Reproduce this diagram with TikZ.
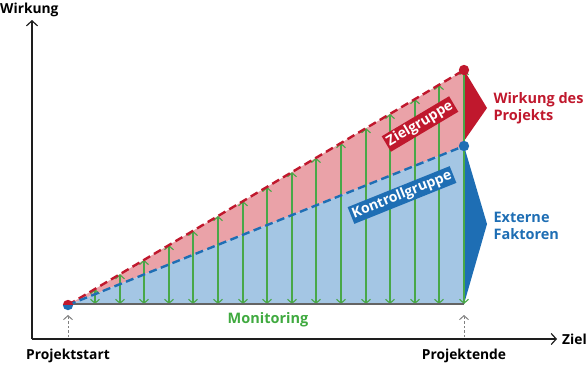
\documentclass[tikz,border=0pt]{standalone}
\usepackage{fontspec}
\setmainfont{Open Sans}
\usetikzlibrary{arrows.meta,calc}
\definecolor{dred}{RGB}{192,24,45}
\definecolor{dblue}{RGB}{30,110,180}
\definecolor{pinkfill}{RGB}{234,162,168}
\definecolor{bluefill}{RGB}{164,198,228}
\definecolor{mgreen}{RGB}{72,168,72}
\definecolor{tgreen}{RGB}{64,170,64}
\definecolor{axisc}{RGB}{30,30,30}
\definecolor{basegray}{RGB}{100,100,100}
\tikzset{
  axis/.style={draw=axisc, line width=1.4pt, -{Straight Barb[length=5pt,width=11pt,line width=1.2pt]}},
  garrow/.style={draw=mgreen, line width=1.6pt, -{Straight Barb[length=4pt,width=9pt,line width=1.1pt]}},
  milestone/.style={draw=gray, line width=1pt, dashed, dash pattern=on 2.5pt off 2pt, -{Straight Barb[length=4pt,width=9pt,line width=1pt]}},
  lbl/.style={font=\bfseries\fontsize{13.8}{15}\selectfont, text=black},
  tag/.style={font=\bfseries\fontsize{14}{15}\selectfont, text=white, inner sep=2pt},
  side/.style={font=\bfseries\fontsize{14.5}{17}\selectfont, align=left, anchor=west}
}
\begin{document}
\begin{tikzpicture}[x=1pt,y=-1pt]
\useasboundingbox (0,0) rectangle (588,368);
% key points
\coordinate (S) at (68,305);
\coordinate (R) at (464,70);
\coordinate (B) at (464,146);
\coordinate (E) at (464,304);
\coordinate (SB) at (68,304);
% fills
\fill[pinkfill] (S) -- (R) -- (B) -- cycle;
\fill[bluefill] (S) -- (B) -- (E) -- (SB) -- cycle;
% side arrows
\fill[dred] (R) -- (487,108) -- (464,141) -- cycle;
\fill[dblue] (B) -- (487,224) -- (E) -- cycle;
% green monitoring arrows
\foreach \k in {0,...,15}{
  \pgfmathsetmacro{\xx}{round(95+24.6*\k)}
  \pgfmathsetmacro{\yr}{305-(\xx-68)/396*235}
  \pgfmathsetmacro{\yb}{305-(\xx-68)/396*159}
  \coordinate (m\k) at (\xx,\yb);
  \coordinate (r\k) at (\xx,\yr);
  \coordinate (e\k) at (\xx,304);
  \draw[garrow] (m\k) -- (r\k);
  \draw[garrow] (m\k) -- (e\k);
}
% baseline
\draw[basegray, line width=2.2pt] (SB) -- (E);
% dashed lines
\draw[dred, line width=2.4pt, dash pattern=on 8pt off 4.5pt] (S) -- (R);
\draw[dblue, line width=2.4pt, dash pattern=on 8pt off 4.5pt] (S) -- (B);
% tags
\node[tag, fill=dred, rotate=30.7] (zg) at (420,124) {Zielgruppe};
\node[tag, fill=dblue, rotate=21.9] (kg) at (402,195) {Kontrollgruppe};
% dots
\fill[dred] (R) circle (5.2);
\fill[dblue] (B) circle (5.2);
\begin{scope}
\clip (S) circle (5.2);
\fill[dblue] ($(S)+(-6,0)$) rectangle ($(S)+(6,6)$);
\fill[dred] ($(S)+(-6,-6)$) rectangle ($(S)+(6,0)$);
\end{scope}
% axes
\coordinate (O) at (32,339);
\coordinate (Ytop) at (32,20);
\coordinate (Xend) at (557,339);
\draw[axis] (O) -- (Ytop);
\draw[axis] (O) -- (Xend);
\node[lbl, anchor=west, inner sep=0pt] (wirk) at (0,10) {Wirkung};
\node[lbl, anchor=west, inner sep=0pt] (ziel) at (562,339) {Ziel};
% milestones
\coordinate (ps0) at (68,337);
\coordinate (ps1) at (68,315);
\coordinate (pe0) at (464,337);
\coordinate (pe1) at (464,315);
\draw[milestone] (ps0) -- (ps1);
\draw[milestone] (pe0) -- (pe1);
\node[lbl] (pstart) at (68,356) {Projektstart};
\node[lbl] (pend) at (464,356) {Projektende};
% side labels
\node[side, text=dred] (wdp) at (490,108) {Wirkung des\\Projekts};
\node[side, text=dblue] (ext) at (490,226) {Externe\\Faktoren};
\node[font=\bfseries\fontsize{14.5}{15}\selectfont, text=tgreen] (mon) at (268,320) {Monitoring};
\end{tikzpicture}
\end{document}
